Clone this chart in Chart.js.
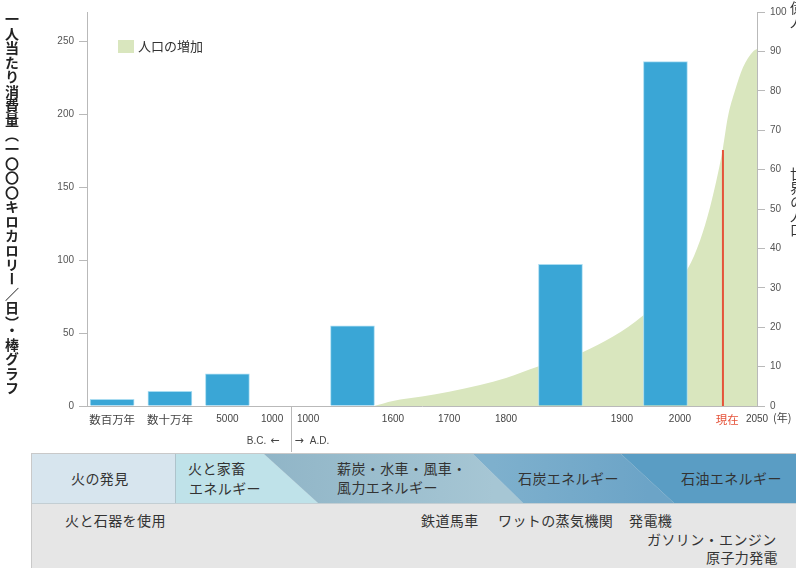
<!DOCTYPE html>
<html lang="ja">
<head>
<meta charset="utf-8">
<title>エネルギー消費量と人口の増加</title>
<script src="https://cdn.jsdelivr.net/npm/chart.js@4.4.1/dist/chart.umd.min.js"></script>
<style>
  html, body { margin: 0; padding: 0; background: #fff; }
  body { width: 796px; height: 568px; overflow: hidden; position: relative;
         font-family: "Noto Sans CJK JP", "Liberation Sans", sans-serif; color: #333; }
  #chart-wrap { position: absolute; left: 0; top: 0; width: 796px; height: 452px; }
  .vtitle { position: absolute; writing-mode: vertical-rl; white-space: nowrap; font-size: 14px; line-height: 14px; }
  #left-title { left: 5px; top: 12px; color: #222; font-weight: bold; letter-spacing: 0.45px; }
  #right-unit { left: 790px; top: 1px; color: #333; }
  #right-title { left: 790px; top: 167px; color: #333; }
  #eras { position: absolute; left: 31px; top: 453px; width: 770px; height: 120px;
          background: #e6e6e6; border-left: 1px solid #c9c9c9; border-top: 1px solid #c9c9c9; }
  .band { position: absolute; left: 0; top: 0; width: 770px; height: 49px; }
  #era-row { position: absolute; left: 0; top: 0; width: 770px; height: 49px; border-bottom: 1px solid #c3ced3; }
  .lbl { position: absolute; font-size: 14px; line-height: 19px; white-space: nowrap; color: #333; letter-spacing: 0.4px; }
</style>
</head>
<body>

<div id="chart-wrap"><canvas id="energy-chart"></canvas></div>

<div id="left-title" class="vtitle">一人当たり消費量（一〇〇〇キロカロリー／日）・棒グラフ</div>
<div id="right-unit" class="vtitle">億人</div>
<div id="right-title" class="vtitle">世界の人口</div>

<div id="eras">
  <div id="era-row">
    <div class="band" style="background:#d7e5ee; clip-path: polygon(0 0, 144px 0, 144px 49px, 0 49px);"></div>
    <div class="band" style="background:#bfe2e9; clip-path: polygon(144px 0, 232px 0, 286px 49px, 144px 49px);"></div>
    <div class="band" style="background:linear-gradient(90deg, #90b5c7 30%, #a6c6d4 60%); clip-path: polygon(232px 0, 441px 0, 491px 49px, 286px 49px);"></div>
    <div class="band" style="background:linear-gradient(90deg, #7eb0cd 60%, #6ca4c7 80%); clip-path: polygon(441px 0, 589px 0, 642px 49px, 491px 49px);"></div>
    <div class="band" style="background:#5a9dc4; clip-path: polygon(589px 0, 770px 0, 770px 49px, 642px 49px);"></div>
    <div class="band" style="left:143px; width:1px; background:#aec3cb;"></div>
  </div>
  <div class="lbl" style="left:39px; top:15px;">火の発見</div>
  <div class="lbl" style="left:156px; top:5px;">火と家畜</div>
  <div class="lbl" style="left:157px; top:25px;">エネルギー</div>
  <div class="lbl" style="left:305px; top:5px;">薪炭・水車・風車・</div>
  <div class="lbl" style="left:305px; top:24px;">風力エネルギー</div>
  <div class="lbl" style="left:486px; top:15px;">石炭エネルギー</div>
  <div class="lbl" style="left:649px; top:15px;">石油エネルギー</div>

  <div class="lbl" style="left:33px; top:57px;">火と石器を使用</div>
  <div class="lbl" style="left:389px; top:57px;">鉄道馬車</div>
  <div class="lbl" style="left:466px; top:57px;">ワットの蒸気機関</div>
  <div class="lbl" style="left:597px; top:57px;">発電機</div>
  <div class="lbl" style="left:615px; top:76px;">ガソリン・エンジン</div>
  <div class="lbl" style="left:674px; top:94px;">原子力発電</div>
</div>

<script>
// Timeline runs on an evenly spaced "slot" axis (0-24); the era columns are not to scale.

// consumption per person (1000 kcal / day)
const barSlots  = [0.9, 2.97, 5.03, 9.51, 16.96, 20.72];
const barValues = [4.5, 10, 22, 55, 97, 236];

// world population (100 million people)
const popSlots  = [10.28, 10.96, 12.0, 12.97, 14.08, 15.01, 16.16, 17.77, 19.92, 21.53, 21.96, 22.32, 22.6, 22.78, 22.96, 23.21, 23.5, 23.86, 24];
const popValues = [0, 1.3, 2.4, 3.6, 5.3, 7.1, 10, 13.7, 23, 35, 42, 50.5, 59, 65.5, 73.5, 80, 86, 90, 90.6];

// bottom axis labels
const tickSlots  = [0.9, 2.97, 5.03, 6.63, 7.92, 10.96, 12.97, 15.01, 19.16, 21.24, 22.93, 24];
const tickLabels = ['数百万年', '数十万年', '5000', '1000', '1000', '1600', '1700', '1800', '1900', '2000', '現在', '2050'];

const nowSlot = 22.78;        // present day marker
const nowPopulation = 65;
const eraDividerSlot = 7.31;  // B.C. / A.D. split

const leftTicks  = [0, 50, 100, 150, 200, 250];
const rightTicks = [0, 10, 20, 30, 40, 50, 60, 70, 80, 90, 100];

const COLORS = {
  bar: '#3aa6d6',
  barEdge: '#a9dcf1',
  pop: '#d9e6be',
  now: '#e5533a',
  axis: '#b9b9b9',
  text: '#444'
};

Chart.defaults.font.family = '"Liberation Sans", "Noto Sans CJK JP", sans-serif';
Chart.defaults.color = '#555';

const isCJK = (s) => /[^\x00-\x7F]/.test(s);

// legend, year unit, B.C./A.D. notes and the divider line
const extrasPlugin = {
  id: 'extras',
  afterDraw(chart) {
    const { ctx, chartArea, scales } = chart;
    const x = scales.x;
    ctx.save();

    // legend
    ctx.fillStyle = COLORS.pop;
    ctx.fillRect(chartArea.left + 31, 40, 16, 13);
    ctx.fillStyle = '#333';
    ctx.font = '13px "Noto Sans CJK JP"';
    ctx.textBaseline = 'middle';
    ctx.textAlign = 'left';
    ctx.fillText('人口の増加', chartArea.left + 51, 46.5);

    // "(年)" after the last tick
    ctx.fillStyle = COLORS.text;
    ctx.font = '11px "Noto Sans CJK JP"';
    ctx.fillText('(年)', x.getPixelForValue(24) + 16, 418);

    // divider between B.C. and A.D.
    const dx = Math.round(x.getPixelForValue(eraDividerSlot)) + 0.5;
    ctx.strokeStyle = COLORS.axis;
    ctx.lineWidth = 1;
    ctx.beginPath();
    ctx.moveTo(dx, chartArea.bottom);
    ctx.lineTo(dx, chart.height);
    ctx.stroke();

    const arrowFont = '11px "DejaVu Sans"';
    const textFont = '10px "Liberation Sans"';
    ctx.textAlign = 'right';
    ctx.font = arrowFont;
    ctx.fillText('←', dx - 12, 441);
    const aw = ctx.measureText('←').width;
    ctx.font = textFont;
    ctx.fillText('B.C.', dx - 16 - aw, 441);

    ctx.textAlign = 'left';
    ctx.font = arrowFont;
    ctx.fillText('→', dx + 3, 441);
    const bw = ctx.measureText('→').width;
    ctx.font = textFont;
    ctx.fillText('A.D.', dx + 9 + bw, 441);

    ctx.restore();
  }
};

const chart = new Chart(document.getElementById('energy-chart'), {
  type: 'bar',
  plugins: [extrasPlugin],
  data: {
    datasets: [
      {
        type: 'bar',
        label: '一人当たり消費量',
        data: barSlots.map((s, i) => ({ x: s, y: barValues[i] })),
        backgroundColor: COLORS.bar,
        borderColor: COLORS.barEdge,
        borderWidth: 1,
        borderSkipped: 'bottom',
        barThickness: 44,
        yAxisID: 'y',
        order: 1
      },
      {
        type: 'line',
        label: '現在',
        data: [{ x: nowSlot, y: 0 }, { x: nowSlot, y: nowPopulation }],
        borderColor: COLORS.now,
        borderWidth: 2,
        pointRadius: 0,
        yAxisID: 'y2',
        order: 2
      },
      {
        type: 'line',
        label: '人口の増加',
        data: popSlots.map((s, i) => ({ x: s, y: popValues[i] })),
        backgroundColor: COLORS.pop,
        borderWidth: 0,
        borderColor: 'transparent',
        fill: 'origin',
        cubicInterpolationMode: 'monotone',
        pointRadius: 0,
        yAxisID: 'y2',
        order: 3
      }
    ]
  },
  options: {
    responsive: true,
    maintainAspectRatio: false,
    animation: false,
    layout: { padding: { top: 12, left: 0, right: 0, bottom: 0 } },
    plugins: {
      legend: { display: false },
      tooltip: { enabled: false }
    },
    scales: {
      x: {
        type: 'linear',
        min: 0,
        max: 24,
        offset: false,
        grid: { display: false, drawTicks: false },
        border: { color: COLORS.axis },
        afterBuildTicks: (s) => { s.ticks = tickSlots.map(v => ({ value: v })); },
        afterFit: (s) => { s.height = 46; },
        ticks: {
          autoSkip: false,
          maxRotation: 0,
          padding: 7,
          color: (c) => tickLabels[c.index] === '現在' ? COLORS.now : COLORS.text,
          font: (c) => isCJK(tickLabels[c.index] || '')
            ? { family: '"Noto Sans CJK JP"', size: 11.5 }
            : { family: '"Liberation Sans"', size: 10 },
          callback: (v, i) => tickLabels[i]
        }
      },
      y: {
        position: 'left',
        min: 0,
        max: 270,
        grid: { drawOnChartArea: false, tickLength: 8, color: COLORS.axis },
        border: { color: COLORS.axis },
        afterBuildTicks: (s) => { s.ticks = leftTicks.map(v => ({ value: v })); },
        afterFit: (s) => { s.width = 87; },
        ticks: { padding: 5, font: { size: 10 }, color: '#555' }
      },
      y2: {
        position: 'right',
        min: 0,
        max: 100,
        grid: { drawOnChartArea: false, tickLength: 8, color: COLORS.axis },
        border: { color: COLORS.axis },
        afterBuildTicks: (s) => { s.ticks = rightTicks.map(v => ({ value: v })); },
        afterFit: (s) => { s.width = 39; },
        ticks: { padding: 5, font: { size: 10 }, color: '#555' }
      }
    }
  }
});
</script>
</body>
</html>
